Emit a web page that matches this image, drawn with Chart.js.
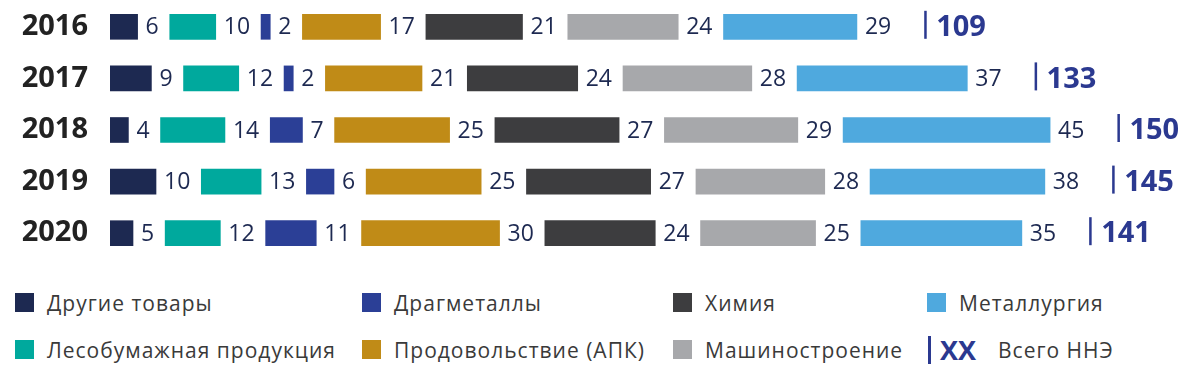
<!DOCTYPE html>
<html>
<head>
<meta charset="utf-8">
<script src="https://cdn.jsdelivr.net/npm/chart.js@4"></script>
<style>
    body { margin: 0; background: #fff; font-family: 'Open Sans', sans-serif; }
    #wrap { position: relative; width: 1200px; height: 374px; }
    #chart-box { position: absolute; left: 0; top: 0; width: 1200px; height: 262px; }
    #legend {
        position: absolute; left: 15px; top: 279px;
        display: grid;
        grid-template-columns: 347px 311px 254px 260px;
        grid-template-rows: 47px 47px;
        grid-auto-flow: column;
    }
    .leg-item { display: flex; align-items: center; font-size: 21px; letter-spacing: 1px; color: #3a3a3a; }
    .leg-box { width: 19px; height: 19px; margin-right: 13px; }
    .leg-line { width: 3px; height: 28px; background: #2b3990; margin-left: 1px; margin-right: 9px; }
    .leg-xx { font-weight: 700; font-size: 27px; letter-spacing: 0; color: #2b3990; margin-right: 22px; }
</style>
</head>
<body>
<div id="wrap">
    <div id="chart-box"><canvas id="my-chart"></canvas></div>
    <div id="legend"></div>
</div>
<script>
const years = ['2016', '2017', '2018', '2019', '2020'];
const categories = ['Другие товары', 'Лесобумажная продукция', 'Драгметаллы', 'Продовольствие (АПК)', 'Химия', 'Машиностроение', 'Металлургия'];
const drugie = [6, 9, 4, 10, 5];
const lesobum = [10, 12, 14, 13, 12];
const dragmet = [2, 2, 7, 6, 11];
const prodovol = [17, 21, 25, 25, 30];
const himiya = [21, 24, 27, 27, 24];
const mashin = [24, 28, 29, 28, 25];
const metall = [29, 37, 45, 38, 35];
const totals = [109, 133, 150, 145, 141];
const colors = ['#1d2951', '#00a99d', '#2b3f96', '#c08b17', '#3d3d3f', '#a7a8ab', '#4fa9de'];
const totalLabel = 'Всего ННЭ';

const series = [drugie, lesobum, dragmet, prodovol, himiya, mashin, metall];

const PX_PER_UNIT = 4.6;
const AXIS_W = 110;
const LABEL_FONT = '500 23px "Open Sans"';
const TOTAL_FONT = 'bold 29px "Open Sans"';

// measure label widths so the gap after every bar fits its number
let measureCtx = document.createElement('canvas').getContext('2d');
measureCtx.font = LABEL_FONT;
function gapFor(v) {
    return (8 + measureCtx.measureText(String(v)).width + 11) / PX_PER_UNIT;
}

let datasets = [];
series.forEach((values, i) => {
    datasets.push({
        label: categories[i],
        data: values,
        backgroundColor: colors[i],
        barThickness: 25
    });
    if (i < series.length - 1) {
        datasets.push({
            label: 'gap',
            isGap: true,
            data: values.map(gapFor),
            backgroundColor: 'rgba(0,0,0,0)',
            barThickness: 25
        });
    }
});

const valueLabels = {
    id: 'valueLabels',
    afterDatasetsDraw(chart) {
        let ctx = chart.ctx;
        ctx.save();
        ctx.textBaseline = 'middle';
        ctx.textAlign = 'left';
        let lastMeta = null;
        chart.data.datasets.forEach((ds, di) => {
            if (ds.isGap) return;
            let meta = chart.getDatasetMeta(di);
            lastMeta = meta;
            ctx.font = LABEL_FONT;
            ctx.fillStyle = '#1d2951';
            meta.data.forEach((bar, i) => {
                ctx.fillText(String(ds.data[i]), bar.x + 8, bar.y + 1);
            });
        });
        lastMeta.data.forEach((bar, i) => {
            ctx.font = LABEL_FONT;
            let lx = bar.x + 8 + ctx.measureText(String(metall[i])).width + 34;
            ctx.fillStyle = '#2b3990';
            ctx.fillRect(lx - 1, bar.y - 16, 2.5, 28);
            ctx.font = TOTAL_FONT;
            ctx.fillText(String(totals[i]), lx + 11, bar.y + 1);
        });
        ctx.restore();
    }
};

let myChart = new Chart(document.getElementById('my-chart').getContext('2d'), {
    type: 'bar',
    data: { labels: years, datasets: datasets },
    options: {
        indexAxis: 'y',
        responsive: true,
        maintainAspectRatio: false,
        animation: false,
        events: [],
        layout: { padding: { top: 1, bottom: 3, left: 0, right: 0 } },
        scales: {
            x: {
                stacked: true,
                display: false,
                min: 0,
                max: (1200 - AXIS_W) / PX_PER_UNIT
            },
            y: {
                stacked: true,
                grid: { display: false, drawTicks: false, tickLength: 0 },
                border: { display: false },
                ticks: {
                    color: '#222',
                    font: { family: 'Open Sans', size: 29, weight: 'bold' },
                    padding: 22
                },
                afterFit: (scale) => {
                    scale.width = AXIS_W;
                    scale.paddingTop = 0;
                    scale.paddingBottom = 0;
                }
            }
        },
        plugins: {
            legend: { display: false },
            tooltip: { enabled: false }
        }
    },
    plugins: [valueLabels]
});

// legend, filled column by column like the original
let legend = document.getElementById('legend');
categories.forEach((name, i) => {
    let item = document.createElement('div');
    item.className = 'leg-item';
    item.innerHTML = `<span class="leg-box" style="background:${colors[i]}"></span><span>${name}</span>`;
    legend.appendChild(item);
});
let totalItem = document.createElement('div');
totalItem.className = 'leg-item';
totalItem.innerHTML = `<span class="leg-line"></span><span class="leg-xx">XX</span><span>${totalLabel}</span>`;
legend.appendChild(totalItem);
</script>
</body>
</html>
